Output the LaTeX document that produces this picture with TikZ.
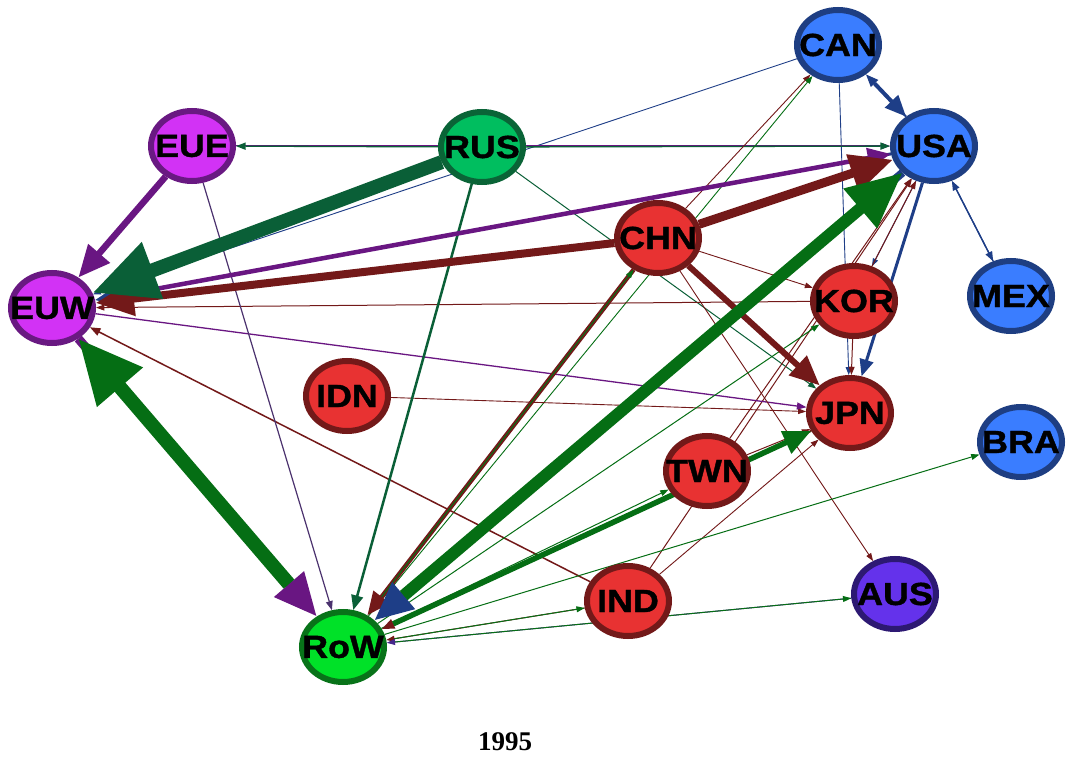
\documentclass[tikz,border=0pt]{standalone}
\usepackage{fontspec}
\setmainfont{Liberation Serif}
\newfontfamily\labfont{Liberation Sans}[FakeStretch=1.12,FakeBold=1.2]
\usetikzlibrary{arrows.meta,shapes.geometric,backgrounds}

% node fills and rims
\definecolor{cBlueFill}{RGB}{58,125,255}
\definecolor{cBlueLine}{RGB}{30,62,130}
\definecolor{cPurpFill}{RGB}{210,50,245}
\definecolor{cPurpLine}{RGB}{105,25,130}
\definecolor{cRusFill}{RGB}{0,190,95}
\definecolor{cRusLine}{RGB}{10,100,55}
\definecolor{cRowFill}{RGB}{0,225,40}
\definecolor{cRowLine}{RGB}{8,115,25}
\definecolor{cRedFill}{RGB}{232,50,50}
\definecolor{cRedLine}{RGB}{115,25,25}
\definecolor{cAusFill}{RGB}{100,50,235}
\definecolor{cAusLine}{RGB}{45,25,115}
% flow colours (by exporting region)
\definecolor{eBlue}{RGB}{30,62,135}
\definecolor{ePurp}{RGB}{105,22,130}
\definecolor{ePurpDark}{RGB}{75,50,110}
\definecolor{eRus}{RGB}{10,95,55}
\definecolor{eRow}{RGB}{5,110,20}
\definecolor{eRed}{RGB}{115,25,25}
\definecolor{eAus}{RGB}{70,40,140}

\newcommand\nodetext[1]{\makebox[0pt]{#1}}

\begin{document}
\begin{tikzpicture}[x=1pt,y=-1pt,
  country/.style={ellipse, draw, line width=6pt, minimum width=82pt,
    minimum height=70pt, inner sep=0pt,
    font=\labfont\bfseries\fontsize{32}{32}\selectfont},
  bluenode/.style={country, fill=cBlueFill, draw=cBlueLine},
  purpnode/.style={country, fill=cPurpFill, draw=cPurpLine},
  rusnode/.style={country, fill=cRusFill, draw=cRusLine},
  rownode/.style={country, fill=cRowFill, draw=cRowLine},
  rednode/.style={country, fill=cRedFill, draw=cRedLine},
  ausnode/.style={country, fill=cAusFill, draw=cAusLine},
  flow/.style={-{Triangle[length=4pt 4.3,width=2pt 3.9]}, line width=#1pt},
]
\useasboundingbox (0,0) rectangle (1069,762);

% countries and regions
\node[bluenode] (CAN) at (838,45)  {\nodetext{CAN}};
\node[bluenode] (USA) at (934,146) {\nodetext{USA}};
\node[bluenode] (MEX) at (1011,296){\nodetext{MEX}};
\node[bluenode] (BRA) at (1021,442){\nodetext{BRA}};
\node[purpnode] (EUE) at (192,146) {\nodetext{EUE}};
\node[purpnode] (EUW) at (52,308)  {\nodetext{EUW}};
\node[rusnode]  (RUS) at (482,147) {\nodetext{RUS}};
\node[rednode]  (CHN) at (658,238) {\nodetext{CHN}};
\node[rednode]  (KOR) at (854,301) {\nodetext{KOR}};
\node[rednode]  (IDN) at (347,396) {\nodetext{IDN}};
\node[rednode]  (JPN) at (850,413) {\nodetext{JPN}};
\node[rednode]  (TWN) at (707,471) {\nodetext{TWN}};
\node[rednode]  (IND) at (628,601) {\nodetext{IND}};
\node[ausnode]  (AUS) at (895,594) {\nodetext{AUS}};
\node[rownode]  (RoW) at (343,647) {\nodetext{RoW}};

\node[font=\bfseries\fontsize{27}{27}\selectfont] (year) at (505,742) {1995};

\begin{scope}[on background layer]
\fill[white] (0,0) rectangle (1069,762);
% thin flows
\draw[flow=0.9, eBlue] (CAN) -- (EUW);
\draw[flow=0.9, eBlue] (CAN) -- (JPN);
\draw[flow=0.9, eBlue] (USA) -- (KOR);
\draw[flow=1.3, eBlue] (MEX) -- (USA);
\draw[flow=1.3, eBlue, shorten <=9.6pt] (USA) -- (MEX);
\draw[flow=1, ePurp] (EUE) -- (USA);
\draw[flow=1.3, eRus] (RUS) -- (EUE);
\draw[flow=1.3, eRus] (RUS) -- (USA);
\draw[flow=1, eRus] (RUS) -- (JPN);
\draw[flow=0.9, eRed] (CHN) -- (CAN);
\draw[flow=0.9, eRow] (RoW) -- (CAN);
\draw[flow=0.9, eRed] (CHN) -- (KOR);
\draw[flow=1, eRed] (KOR) -- (EUW);
\draw[flow=1, eRed] (KOR) -- (USA);
\draw[flow=1, eRed] (TWN) -- (USA);
\draw[flow=1, eRed] (IND) -- (USA);
\draw[flow=0.9, eRed] (IND) -- (JPN);
\draw[flow=1, eRed] (KOR) -- (JPN);
\draw[flow=0.9, eRed] (IDN) -- (JPN);
\draw[flow=1.3, ePurp] (EUW) -- (JPN);
\draw[flow=0.9, eRed] (CHN) -- (AUS);
\draw[flow=1.5, eRed] (IND) -- (EUW);
\draw[flow=1.2, ePurpDark] (EUE) -- (RoW);
\draw[flow=1, eRow] (RoW) -- (KOR);
\draw[flow=1, eRow] (RoW) -- (BRA);
\draw[flow=1, eRow] (RoW) -- (TWN);
\draw[flow=1, eRed] (IND) -- (RoW);
\draw[flow=1, eRow, shorten <=8.3pt] (RoW) -- (IND);
\draw[flow=1, eAus] (AUS) -- (RoW);
\draw[flow=1, eRow, shorten <=8.3pt] (RoW) -- (AUS);
\draw[flow=1, eRed] (TWN) -- (JPN);
% medium flows
\draw[flow=3, eBlue] (USA) -- (JPN);
\draw[flow=2, eBlue] (USA) -- (CAN);
\draw[flow=4, eBlue, shorten <=12.6pt] (CAN) -- (USA);
\draw[flow=2.5, eRus] (RUS) -- (RoW);
\draw[flow=4.5, eRed] (CHN) -- (RoW);
\draw[flow=1, eRow, shorten <=23.4pt] (RoW) -- (CHN);
\draw[flow=2, eRed] (JPN) -- (RoW);
\draw[flow=5.5, eRow, shorten <=12.6pt] (RoW) -- (JPN);
\draw[flow=3, eBlue] (USA) -- (EUW);
\draw[flow=4.5, ePurp, shorten <=16.9pt] (EUW) -- (USA);
\draw[flow=6, eRed] (CHN) -- (JPN);
\draw[flow=6.5, ePurp] (EUE) -- (EUW);
% heavy flows
\draw[flow=8, eBlue] (USA) -- (RoW);
\draw[flow=8, eRed] (CHN) -- (EUW);
\draw[flow=9, eRed] (CHN) -- (USA);
\draw[flow=12, eRow, shorten <=38.4pt] (RoW) -- (USA);
\draw[flow=14, eRus] (RUS) -- (EUW);
\draw[flow=9, ePurp] (EUW) -- (RoW);
\draw[flow=14, eRow, shorten <=42.7pt] (RoW) -- (EUW);
\end{scope}
\end{tikzpicture}
\end{document}
